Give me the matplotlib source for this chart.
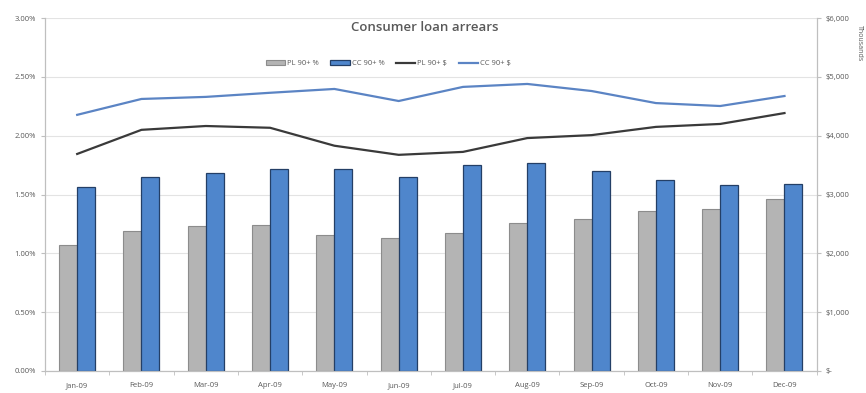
import numpy as np
import matplotlib
matplotlib.use("Agg")
from matplotlib import pyplot as plt
from matplotlib.ticker import FuncFormatter

months = ["Jan-09", "Feb-09", "Mar-09", "Apr-09", "May-09", "Jun-09",
          "Jul-09", "Aug-09", "Sep-09", "Oct-09", "Nov-09", "Dec-09"]
pl_pct = [1.07, 1.19, 1.23, 1.24, 1.16, 1.13, 1.17, 1.26, 1.29, 1.36, 1.38, 1.46]
cc_pct = [1.56, 1.65, 1.68, 1.72, 1.72, 1.65, 1.75, 1.77, 1.70, 1.62, 1.58, 1.59]
pl_usd = [3690, 4100, 4165, 4135, 3830, 3675, 3725, 3960, 4010, 4150, 4200, 4385]
cc_usd = [4355, 4625, 4660, 4730, 4795, 4590, 4830, 4880, 4760, 4555, 4505, 4675]

text_grey = "#595959"
plt.rcParams["font.family"] = ["Open Sans", "DejaVu Sans"]

fig = plt.figure(figsize=(8.66, 3.93), dpi=100)
ax = fig.add_axes([0.052, 0.056, 0.891, 0.898])
ax2 = ax.twinx()

x = np.arange(len(months))
w = 0.28
b1 = ax.bar(x - w / 2, pl_pct, w, color="#b4b4b4", edgecolor="#8c8c8c", linewidth=0.8,
            label="PL 90+ %", zorder=3)
b2 = ax.bar(x + w / 2, cc_pct, w, color="#4f86cc", edgecolor="#243f66", linewidth=0.9,
            label="CC 90+ %", zorder=3)
l1, = ax2.plot(x, pl_usd, color="#3a3a3a", linewidth=1.6, label="PL 90+ $")
l2, = ax2.plot(x, cc_usd, color="#5b84c4", linewidth=1.6, label="CC 90+ $")

ax.set_xlim(-0.5, len(months) - 0.5)
ax.set_ylim(0, 3.0)
ax.set_yticks(np.arange(0, 3.01, 0.5))
ax.yaxis.set_major_formatter(FuncFormatter(lambda v, p: f"{v:.2f}%"))
ax.grid(axis="y", color="#e3e3e3", linewidth=0.8, zorder=0)
ax.set_axisbelow(True)
ax.set_xticks(x)
ax.set_xticklabels(months)
ax.set_xticks(np.arange(-0.5, len(months), 1), minor=True)
ax.tick_params(axis="x", which="major", length=0, labelsize=5.5, colors=text_grey, pad=8)
ax.tick_params(axis="x", which="minor", length=3, color="#bfbfbf")
ax.tick_params(axis="y", length=3, labelsize=5.5, colors=text_grey, color="#bfbfbf")

ax2.set_ylim(0, 6000)
ax2.set_yticks(np.arange(0, 6001, 1000))
ax2.yaxis.set_major_formatter(FuncFormatter(lambda v, p: "$-" if v == 0 else f"${v:,.0f}"))
ax2.tick_params(axis="y", length=3, labelsize=5.5, colors=text_grey, color="#bfbfbf")
ax2.text(1.055, 0.98, "Thousands", transform=ax2.transAxes, rotation=-90, fontsize=5,
         color=text_grey, va="top", ha="center")

for a in (ax, ax2):
    a.spines["top"].set_visible(False)
    for s in ("left", "right", "bottom"):
        a.spines[s].set_color("#bfbfbf")
        a.spines[s].set_linewidth(0.8)

fig.text(0.49, 0.929, "Consumer loan arrears", fontsize=9.5, color=text_grey,
         fontweight="semibold", ha="center", va="center")
ax.legend([b1, b2, l1, l2], ["PL 90+ %", "CC 90+ %", "PL 90+ $", "CC 90+ $"],
          loc="upper center", bbox_to_anchor=(0.445, 0.90), ncol=4, frameon=False,
          fontsize=5.5, handlelength=2.5, handleheight=0.5, columnspacing=1.5,
          handletextpad=0.3, labelcolor=text_grey)

fig.savefig("out.png", dpi=100)
